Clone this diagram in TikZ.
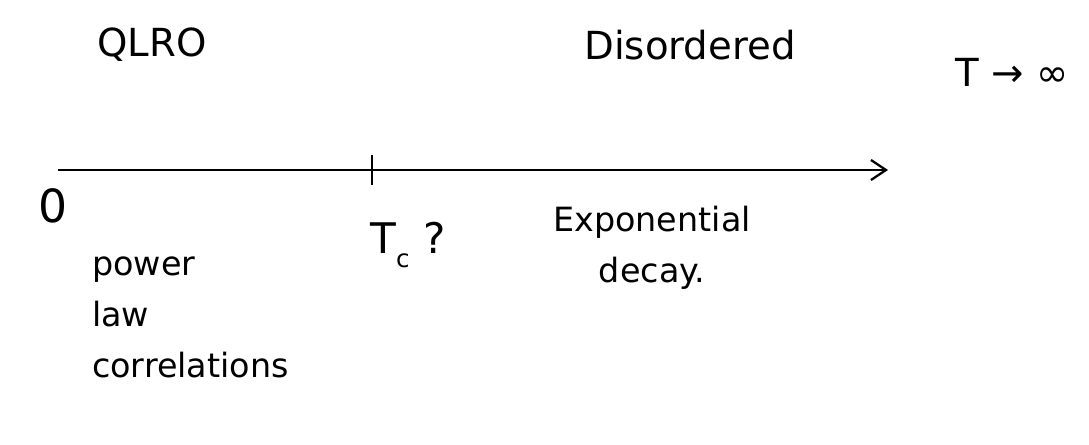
\documentclass[tikz,border=0pt]{standalone}
\usepackage{fontspec}
\setmainfont{DejaVu Sans}
\usetikzlibrary{arrows.meta,positioning}
\definecolor{ink}{HTML}{000000}
\tikzset{
  label/.style={text=ink, inner sep=1pt, font=\fontsize{22}{26}\selectfont},
  note/.style={text=ink, inner sep=1pt, align=left, font=\fontsize{19}{29}\selectfont},
  axis/.style={-{Straight Barb[length=3mm,width=4mm]}, line width=1.3pt, draw=ink},
  tickmark/.style={line width=1.3pt, draw=ink}
}
\begin{document}
\begin{tikzpicture}[x=0.02cm,y=-0.02cm]
  \useasboundingbox (0,0) rectangle (1089,445);
  % axis
  \coordinate (start) at (58,170);
  \coordinate (stop) at (888,170);
  \coordinate (tc) at (372,170);
  \draw[axis] (start) -- (stop);
  \draw[tickmark] ([yshift=-0.3cm]tc) -- ([yshift=0.3cm]tc);
  % labels above
  \node[label] (qlro) at (152,45) {QLRO};
  \node[label] (dis) at (690,45) {Disordered};
  \node[label] (tinf) at (1012,72) {T → ∞};
  % labels below
  \node[label,font=\fontsize{26}{30}\selectfont] (zero) at (53,206) {0};
  \node[label,font=\fontsize{24}{28}\selectfont] (tcl) at (408,245) {T\raisebox{-0.6ex}{\fontsize{14}{16}\selectfont c} ?};
  \node[note,align=center] (expo) at (652,248) {Exponential\\decay.};
  \node[note,anchor=north west] (power) at (90,255) {power\\law\\correlations};
\end{tikzpicture}
\end{document}
